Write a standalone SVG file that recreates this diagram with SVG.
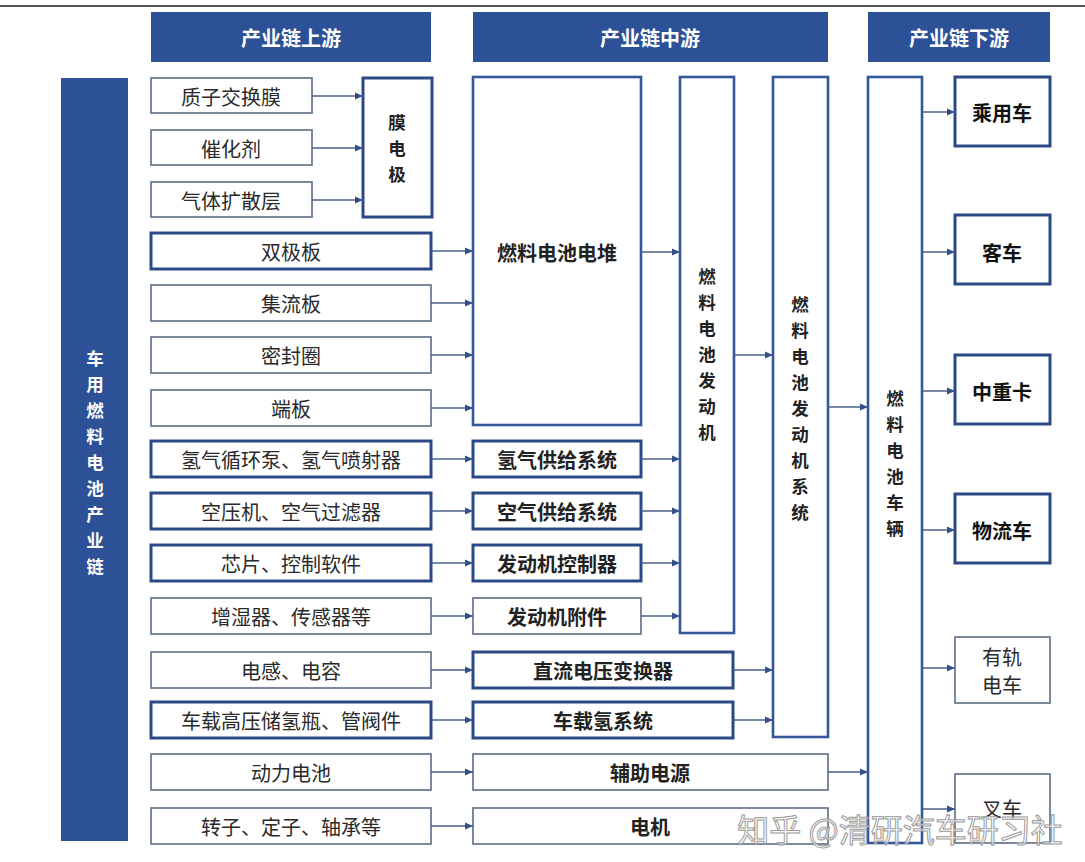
<svg xmlns="http://www.w3.org/2000/svg" width="1085" height="862" viewBox="0 0 1085 862">
<style>
text{font-family:"Noto Sans CJK SC","Noto Sans",sans-serif;dominant-baseline:central;text-anchor:middle}
.hdr{fill:#2c5196}
.hdrt{fill:#fff;font-size:20px;font-weight:bold}
.thin{fill:#fff;stroke:#66758c;stroke-width:1.7}
.thick{fill:#fff;stroke:#2b4a85;stroke-width:3}
.tall{fill:#fff;stroke:#34569a;stroke-width:2.6}
.up{font-size:20px;fill:#2a2a2a}
.mid{font-size:20px;fill:#222;font-weight:bold}
.dn{font-size:20px;fill:#111;font-weight:bold}
.vt{font-size:17.5px;fill:#222;font-weight:bold}
.vw{font-size:17.5px;fill:#fff;font-weight:bold}
.conn line{stroke:#4a5f88;stroke-width:1.6;marker-end:url(#ah)}
</style>
<defs>
<marker id="ah" markerUnits="userSpaceOnUse" markerWidth="9" markerHeight="8" refX="8" refY="4" orient="auto">
<path d="M0,0.5 L8,4 L0,7.5 z" fill="#33508a"/>
</marker>
</defs>
<rect width="1085" height="862" fill="#fff"/>
<line x1="0" y1="6" x2="1085" y2="6" stroke="#555" stroke-width="2"/>

<g id="headers">
<rect class="hdr" x="151" y="12" width="280" height="50"/>
<text class="hdrt" x="291" y="37">产业链上游</text>
<rect class="hdr" x="473" y="12" width="355" height="50"/>
<text class="hdrt" x="650" y="37">产业链中游</text>
<rect class="hdr" x="868" y="12" width="182" height="50"/>
<text class="hdrt" x="959" y="37">产业链下游</text>
</g>

<g id="chain">
<rect x="61" y="78" width="67" height="763" fill="#2c5196"/>
<text class="vw" x="95" y="357">车<tspan x="95" dy="26">用</tspan><tspan x="95" dy="26">燃</tspan><tspan x="95" dy="26">料</tspan><tspan x="95" dy="26">电</tspan><tspan x="95" dy="26">池</tspan><tspan x="95" dy="26">产</tspan><tspan x="95" dy="26">业</tspan><tspan x="95" dy="26">链</tspan></text>
</g>

<g id="n-pem"><rect class="thin" x="151" y="78" width="161" height="35"/><text class="up" x="231" y="96">质子交换膜</text></g>
<g id="n-cat"><rect class="thin" x="151" y="130" width="161" height="35"/><text class="up" x="231" y="148">催化剂</text></g>
<g id="n-gdl"><rect class="thin" x="151" y="182" width="161" height="35"/><text class="up" x="231" y="200">气体扩散层</text></g>
<g id="n-mea"><rect class="thick" x="363" y="78" width="69" height="139"/><text class="vt" x="397" y="121">膜<tspan x="397" dy="26">电</tspan><tspan x="397" dy="26">极</tspan></text></g>

<g id="n-bp"><rect class="thick" x="151" y="233" width="280" height="36"/><text class="up" x="291" y="251">双极板</text></g>
<g id="n-cc"><rect class="thin" x="151" y="285" width="280" height="36"/><text class="up" x="291" y="303">集流板</text></g>
<g id="n-seal"><rect class="thin" x="151" y="337" width="280" height="36"/><text class="up" x="291" y="355">密封圈</text></g>
<g id="n-ep"><rect class="thin" x="151" y="390" width="280" height="36"/><text class="up" x="291" y="408">端板</text></g>
<g id="n-h2pump"><rect class="thick" x="151" y="441" width="280" height="36"/><text class="up" x="291" y="459">氢气循环泵、氢气喷射器</text></g>
<g id="n-comp"><rect class="thick" x="151" y="493" width="280" height="36"/><text class="up" x="291" y="511">空压机、空气过滤器</text></g>
<g id="n-chip"><rect class="thick" x="151" y="545" width="280" height="36"/><text class="up" x="291" y="563">芯片、控制软件</text></g>
<g id="n-hum"><rect class="thin" x="151" y="598" width="280" height="36"/><text class="up" x="291" y="616">增湿器、传感器等</text></g>
<g id="n-lc"><rect class="thin" x="151" y="652" width="280" height="36"/><text class="up" x="291" y="670">电感、电容</text></g>
<g id="n-tank"><rect class="thick" x="151" y="702" width="280" height="36"/><text class="up" x="291" y="720">车载高压储氢瓶、管阀件</text></g>
<g id="n-batt"><rect class="thin" x="151" y="754" width="280" height="36"/><text class="up" x="291" y="772">动力电池</text></g>
<g id="n-rotor"><rect class="thin" x="151" y="808" width="280" height="36"/><text class="up" x="291" y="826">转子、定子、轴承等</text></g>

<g id="n-stack"><rect class="tall" x="473" y="77" width="168" height="348"/><text class="mid" x="557" y="252">燃料电池电堆</text></g>
<g id="n-h2sys"><rect class="thick" x="473" y="441" width="168" height="36"/><text class="mid" x="557" y="459">氢气供给系统</text></g>
<g id="n-airsys"><rect class="thick" x="473" y="493" width="168" height="36"/><text class="mid" x="557" y="511">空气供给系统</text></g>
<g id="n-ecu"><rect class="thick" x="473" y="545" width="168" height="36"/><text class="mid" x="557" y="563">发动机控制器</text></g>
<g id="n-acc"><rect class="thin" x="473" y="598" width="168" height="36"/><text class="mid" x="557" y="616">发动机附件</text></g>
<g id="n-dcdc"><rect class="thick" x="473" y="652" width="260" height="36"/><text class="mid" x="603" y="670">直流电压变换器</text></g>
<g id="n-onboard"><rect class="thick" x="473" y="702" width="260" height="36"/><text class="mid" x="603" y="720">车载氢系统</text></g>
<g id="n-aux"><rect class="thin" x="473" y="754" width="355" height="36"/><text class="mid" x="650" y="772">辅助电源</text></g>
<g id="n-motor"><rect class="thin" x="473" y="808" width="355" height="36"/><text class="mid" x="650" y="826">电机</text></g>

<g id="n-engine"><rect class="tall" x="680" y="77" width="54" height="556"/><text class="vt" x="707" y="275">燃<tspan x="707" dy="26">料</tspan><tspan x="707" dy="26">电</tspan><tspan x="707" dy="26">池</tspan><tspan x="707" dy="26">发</tspan><tspan x="707" dy="26">动</tspan><tspan x="707" dy="26">机</tspan></text></g>
<g id="n-enginesys"><rect class="tall" x="773" y="77" width="55" height="660"/><text class="vt" x="800" y="303">燃<tspan x="800" dy="26">料</tspan><tspan x="800" dy="26">电</tspan><tspan x="800" dy="26">池</tspan><tspan x="800" dy="26">发</tspan><tspan x="800" dy="26">动</tspan><tspan x="800" dy="26">机</tspan><tspan x="800" dy="26">系</tspan><tspan x="800" dy="26">统</tspan></text></g>
<g id="n-vehicle"><rect class="tall" x="868" y="77" width="54" height="766"/><text class="vt" x="895" y="397">燃<tspan x="895" dy="26">料</tspan><tspan x="895" dy="26">电</tspan><tspan x="895" dy="26">池</tspan><tspan x="895" dy="26">车</tspan><tspan x="895" dy="26">辆</tspan></text></g>

<g id="n-car"><rect class="thick" x="955" y="77" width="95" height="69"/><text class="dn" x="1002" y="112">乘用车</text></g>
<g id="n-bus"><rect class="thick" x="955" y="215" width="95" height="69"/><text class="dn" x="1002" y="252">客车</text></g>
<g id="n-truck"><rect class="thick" x="955" y="355" width="95" height="69"/><text class="dn" x="1002" y="391">中重卡</text></g>
<g id="n-logi"><rect class="thick" x="955" y="494" width="95" height="69"/><text class="dn" x="1002" y="530">物流车</text></g>
<g id="n-tram"><rect class="thin" x="955" y="637" width="95" height="66"/><text class="up" x="1002" y="656">有轨</text><text class="up" x="1002" y="684">电车</text></g>
<g id="n-fork"><rect class="thin" x="955" y="774" width="95" height="69"/><text class="up" x="1002" y="808">叉车</text></g>

<g id="connectors" class="conn">
<line x1="312" y1="96" x2="363" y2="96"/>
<line x1="312" y1="148" x2="363" y2="148"/>
<line x1="312" y1="200" x2="363" y2="200"/>
<line x1="431" y1="251" x2="473" y2="251"/>
<line x1="431" y1="303" x2="473" y2="303"/>
<line x1="431" y1="355" x2="473" y2="355"/>
<line x1="431" y1="408" x2="473" y2="408"/>
<line x1="431" y1="459" x2="473" y2="459"/>
<line x1="431" y1="511" x2="473" y2="511"/>
<line x1="431" y1="563" x2="473" y2="563"/>
<line x1="431" y1="616" x2="473" y2="616"/>
<line x1="431" y1="670" x2="473" y2="670"/>
<line x1="431" y1="720" x2="473" y2="720"/>
<line x1="431" y1="772" x2="473" y2="772"/>
<line x1="431" y1="826" x2="473" y2="826"/>
<line x1="641" y1="252" x2="680" y2="252"/>
<line x1="641" y1="459" x2="680" y2="459"/>
<line x1="641" y1="511" x2="680" y2="511"/>
<line x1="641" y1="563" x2="680" y2="563"/>
<line x1="641" y1="616" x2="680" y2="616"/>
<line x1="734" y1="355" x2="773" y2="355"/>
<line x1="733" y1="670" x2="773" y2="670"/>
<line x1="733" y1="720" x2="773" y2="720"/>
<line x1="828" y1="407" x2="868" y2="407"/>
<line x1="828" y1="772" x2="868" y2="772"/>
<line x1="922" y1="112" x2="955" y2="112"/>
<line x1="922" y1="252" x2="955" y2="252"/>
<line x1="922" y1="391" x2="955" y2="391"/>
<line x1="922" y1="530" x2="955" y2="530"/>
<line x1="922" y1="668" x2="955" y2="668"/>
<line x1="922" y1="809" x2="955" y2="809"/>
</g>

<text x="900" y="828" style="font-size:32px;fill:#fff;fill-opacity:0.6;stroke:#9a9a9a;stroke-width:1">知乎 @清研汽车研习社</text>
</svg>
